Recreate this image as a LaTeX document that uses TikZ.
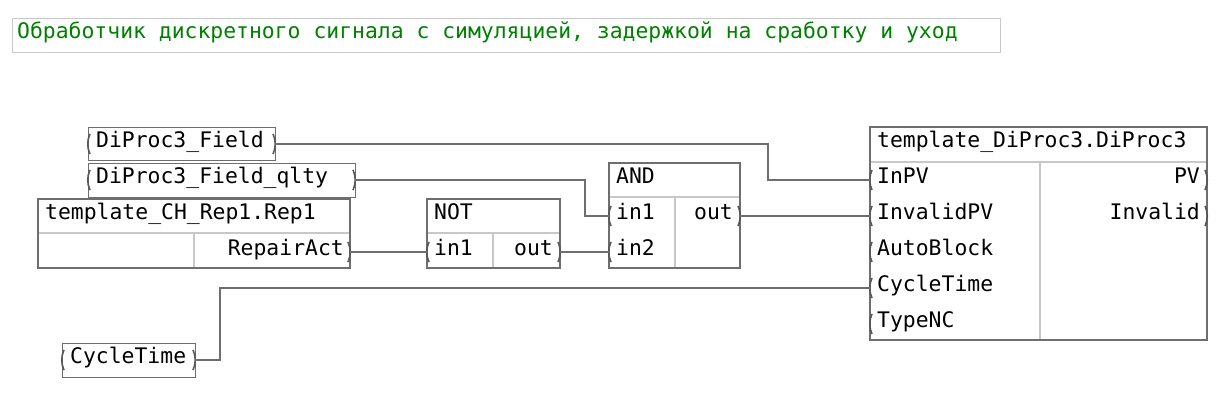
\documentclass[tikz,border=0pt]{standalone}
\usepackage{fontspec}
\newfontfamily\monofont{DejaVu Sans Mono}
\usetikzlibrary{positioning,calc}
\definecolor{frame}{RGB}{110,110,110}
\definecolor{split}{RGB}{200,200,200}
\definecolor{titlegreen}{RGB}{0,128,0}
\newcommand{\fbdfont}{\monofont\fontsize{21.4}{24}\selectfont}

\begin{document}
\begin{tikzpicture}[x=1pt,y=-1pt,
    blk/.style={draw=frame, line width=1.2pt, anchor=north west, inner sep=0pt},
    sep/.style={draw=split, line width=1.2pt},
    lab/.style={font=\fbdfont, inner sep=0pt, anchor=mid west},
    rlab/.style={font=\fbdfont, inner sep=0pt, anchor=mid east},
    wire/.style={draw=frame, line width=1.2pt},
    pinline/.style={draw=frame!80!black, line width=1.6pt},
    inpin/.pic={\draw[pinline] (2,-10) .. controls (-1,-4) and (-1,4) .. (2,10);},
    outpin/.pic={\draw[pinline] (-2,-10) .. controls (1,-4) and (1,4) .. (-2,10);}
]
\useasboundingbox (0,0) rectangle (1226,412);

% Title
\node[blk, draw=split, minimum width=988, minimum height=34] (title) at (12,18) {};
\node[lab, text=titlegreen] at (17,36) {Обработчик дискретного сигнала с симуляцией, задержкой на сработку и уход};

% Input variables
\node[blk, minimum width=187, minimum height=33] (field) at (88,127) {};
\node[lab] at (96,145) {DiProc3\_Field};
\node[blk, minimum width=267, minimum height=34] (qlty) at (88,163) {};
\node[lab] at (96,181) {DiProc3\_Field\_qlty};
\node[blk, minimum width=133, minimum height=34] (cyc) at (62,343) {};
\node[lab] at (70,361) {CycleTime};
\coordinate (fieldR) at (275,144);
\coordinate (qltyR) at (355,180);
\coordinate (cycR) at (195,360);
\foreach \p in {(88,144),(88,180),(62,360)} \pic at \p {inpin};
\foreach \p in {fieldR,qltyR,cycR} \pic at (\p) {outpin};

% Rep1 block
\node[blk, minimum width=312, minimum height=69] (rep) at (38,199) {};
\draw[sep] (38,233) -- (350,233) (194,233) -- (194,268);
\draw[frame, line width=1.2pt] (38,199) rectangle (350,268);
\node[lab] at (45,217) {template\_CH\_Rep1.Rep1};
\node[rlab] at (344,253) {RepairAct};
\coordinate (repR) at (350,252);
\pic at (repR) {outpin};

% NOT block
\node[blk, minimum width=133, minimum height=69] (not) at (427,199) {};
\draw[sep] (427,233) -- (560,233) (493,233) -- (493,268);
\draw[frame, line width=1.2pt] (427,199) rectangle (560,268);
\node[lab] at (434,217) {NOT};
\node[lab] at (434,253) {in1};
\node[rlab] at (553,253) {out};
\coordinate (notIn) at (427,252);
\coordinate (notOut) at (560,252);
\pic at (notIn) {inpin};
\pic at (notOut) {outpin};

% AND block
\node[blk, minimum width=131, minimum height=105] (and) at (609,163) {};
\draw[sep] (609,197) -- (740,197) (675,197) -- (675,268);
\draw[frame, line width=1.2pt] (609,163) rectangle (740,268);
\node[lab] at (616,181) {AND};
\node[lab] at (616,217) {in1};
\node[lab] at (616,253) {in2};
\node[rlab] at (733,217) {out};
\coordinate (andIn1) at (609,216);
\coordinate (andIn2) at (609,252);
\coordinate (andOut) at (740,216);
\foreach \p in {andIn1,andIn2} \pic at (\p) {inpin};
\pic at (andOut) {outpin};

% DiProc3 block
\node[blk, minimum width=337, minimum height=213] (dp) at (870,127) {};
\draw[sep] (870,162) -- (1207,162) (1040,162) -- (1040,340);
\draw[frame, line width=1.2pt] (870,127) rectangle (1207,340);
\node[lab] at (877,145) {template\_DiProc3.DiProc3};
\foreach \n/\y in {InPV/180,InvalidPV/216,AutoBlock/252,CycleTime/288,TypeNC/324} {
    \node[lab] at (877,\y+1) {\n};
    \coordinate (dp\n) at (870,\y);
    \pic at (dp\n) {inpin};
}
\foreach \n/\y in {PV/180,Invalid/216} {
    \node[rlab] at (1200,\y+1) {\n};
    \coordinate (dpo\n) at (1207,\y);
    \pic at (dpo\n) {outpin};
}

% Connections
\draw[wire] (fieldR) -- ++(493,0) |- (dpInPV);
\draw[wire] (qltyR) -- ++(230,0) |- (andIn1);
\draw[wire] (repR) -- (notIn);
\draw[wire] (notOut) -- (andIn2);
\draw[wire] (andOut) -- (dpInvalidPV);
\draw[wire] (cycR) -- ++(25,0) |- (dpCycleTime);
\end{tikzpicture}
\end{document}
